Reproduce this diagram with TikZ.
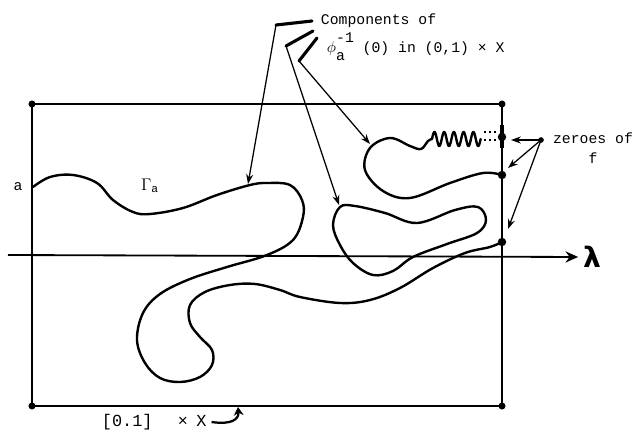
\documentclass[tikz,border=0pt]{standalone}
\usepackage{amsmath}
\usepackage{fontspec}
\setmonofont{Liberation Mono}
\newfontfamily\greekfont{DejaVu Sans}
\usetikzlibrary{arrows.meta, positioning}

\begin{document}
\begin{tikzpicture}[
    x=0.025cm, y=-0.025cm,
    every node/.style={font=\ttfamily\fontsize{10.5}{14}\selectfont, align=center},
    frame/.style={line width=1.3pt},
    curve/.style={line width=1.7pt, line cap=round, line join=round},
    arrow/.style={-{Stealth[length=7pt, width=5pt]}, line width=0.9pt},
    bracket/.style={line width=2.2pt, line cap=round, line join=round},
    dot/.style={circle, fill=black, inner sep=0pt, minimum size=6pt}
]
\useasboundingbox (0,0) rectangle (640,434);

% FRAME
\coordinate (tl) at (32,104);
\coordinate (tr) at (502,104);
\coordinate (br) at (502,406);
\coordinate (bl) at (32,406);
\draw[frame] (tl) -- (tr) -- (br) -- (bl) -- cycle;
\foreach \c in {tl,tr,br,bl} \node[dot, minimum size=5pt] at (\c) {};

% AXIS
\coordinate (axl) at (8,255);
\node[font=\greekfont\bfseries\fontsize{20}{22}\selectfont] (lam) at (592,257) {λ};
\draw[line width=1.3pt, -{Stealth[length=9pt, width=8pt]}] (axl) -- (lam.west);

% CURVES
\draw[curve] plot[smooth, tension=0.6] coordinates {
  (33,187) (50,177) (73,175) (97,183) (113,200) (133,212) (150,214)
  (183,208) (217,195) (250,185) (267,183) (290,185) (302,200) (303,217)
  (293,240) (267,255) (227,267) (190,279) (160,294) (143,313) (137,340)
  (145,363) (160,378) (180,382) (200,377) (212,365) (212,350) (200,337)
  (190,323) (190,305) (205,292) (230,285) (255,284) (280,290) (300,297)
  (340,303) (370,300) (400,288) (433,268) (465,253) (490,247) (502,242)};
\draw[curve] plot[smooth cycle, tension=0.6] coordinates {
  (340,207) (333,225) (340,245) (353,263) (373,275) (393,271) (413,257)
  (447,244) (477,233) (486,220) (478,207) (455,210) (417,223) (385,213)
  (355,206)};
\draw[curve] plot[smooth, tension=0.6] coordinates {
  (502,175) (483,173) (450,183) (410,198) (383,191) (365,170) (370,148)
  (390,138) (410,146) (421,149) (428,141) (432,139)};
\draw[curve] plot[domain=0:1800, samples=150, smooth] ({432+\x/37}, {139-7*sin(\x)});
\draw[line width=1.6pt, dotted] (484,132) -- (499,132);
\draw[line width=1.6pt, dotted] (484,140) -- (499,140);
\draw[line width=3.5pt] (502,125) -- (502,148);
\node[dot] (z1) at (502,137) {};
\node[dot] (z2) at (502,175) {};
\node[dot] (z3) at (502,242) {};

% NODES
\node[anchor=west] (comp) at (316,21) {Components of};
\node[anchor=west] (phi) at (322,47)
  {$\phi$\rlap{\raisebox{7pt}{-1}}\raisebox{-6pt}{a}\hspace{0.6em} (0) in (0,1) × X};
\node (zer) at (593,148) {zeroes of\\f};
\node (alab) at (18,187) {a};
\node[font=\large] (gam) at (150,186) {$\Gamma_{\texttt{a}}$};
\node[anchor=west, font=\ttfamily\fontsize{12}{14}\selectfont] (prod) at (97,422) {[0.1]\hspace{1.5em}×\hspace{0.5em}X};

% BRACKETS
\coordinate (b1) at (276,25);
\coordinate (b2) at (286,46);
\coordinate (b3) at (299,61);
\draw[bracket] (312,21) -- (b1);
\draw[bracket] (313,31) -- (b2);
\draw[bracket] (317,38) -- (b3);

% ARROWS
\coordinate (t1) at (248,184);
\coordinate (t2) at (339,205);
\coordinate (t3) at (370,144);
\draw[arrow] (b1) -- (t1);
\draw[arrow] (b2) -- (t2);
\draw[arrow] (b3) -- (t3);

\coordinate (zd) at (541,140);
\fill (zd) circle (2pt);
\draw[arrow] (zd) -- (511,140);
\draw[arrow] (zd) -- (508,168);
\draw[arrow] (zd) -- (508,229);

\coordinate (edge) at (238,407);
\draw[line width=1.6pt, -{Stealth[length=6pt, width=7pt]}] (prod.east) .. controls (232,425) and (239,419) .. (edge);

\end{tikzpicture}
\end{document}
